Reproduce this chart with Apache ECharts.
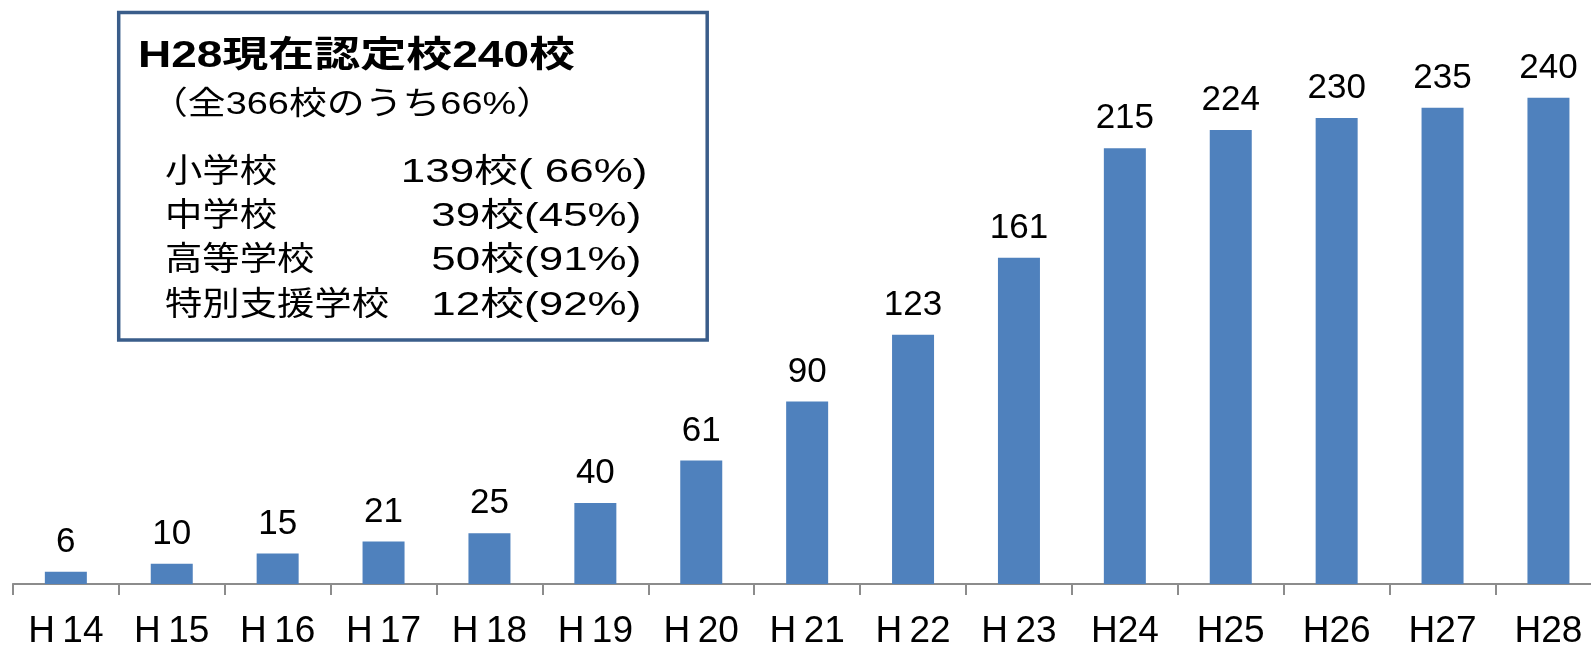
<!DOCTYPE html>
<html><head><meta charset="utf-8">
<script src="https://cdn.jsdelivr.net/npm/echarts@6/dist/echarts.min.js"></script>
<style>html,body{margin:0;padding:0;background:#fff}#c{width:1591px;height:647px}</style>
</head><body><div id="c"></div>
<script>
// ---- data ----
const categories = ['H\u200914','H\u200915','H\u200916','H\u200917','H\u200918','H\u200919','H\u200920','H\u200921','H\u200922','H\u200923','H24','H25','H26','H27','H28'];
const values = [6, 10, 15, 21, 25, 40, 61, 90, 123, 161, 215, 224, 230, 235, 240];
const boxTitle = 'H28現在認定校240校';
const boxSubtitle = '（全366校のうち66%）';
const schoolTypes = ['小学校', '中学校', '高等学校', '特別支援学校'];
const schoolCounts = ['139校( 66%)', '39校(45%)', '50校(91%)', '12校(92%)'];

// ---- layout helpers ----
const FONT = '"Liberation Sans", Arial, "Noto Sans CJK JP", sans-serif';
const mctx = document.createElement('canvas').getContext('2d');
function measure(text, size, weight) {
  mctx.font = (weight || 'normal') + ' ' + size + 'px ' + FONT;
  return mctx.measureText(text).width;
}
function txt(text, x, y, size, weight, align, scaleX) {
  const f = (weight || 'normal') + ' ' + size + 'px ' + FONT;
  return {
    type: 'text', x: x, y: y, scaleX: scaleX, scaleY: 1, z: 10,
    style: { text: text, font: f, fill: '#000',
      align: align, verticalAlign: 'middle',
      textAlign: align, textVerticalAlign: 'middle' }
  };
}

const titleSize = 36, subSize = 32, rowSize = 33;
const titleScale = 437 / measure(boxTitle, titleSize, 'bold');
const subScale = 404 / measure(boxSubtitle, subSize);
const labelScale = 224 / measure(schoolTypes[3], rowSize);
const valueScale = 210 / measure(schoolCounts[1], rowSize);
const rowY = [173, 217, 261, 306];
const valueRight = [647.4, 641.3, 641.3, 641.3];

const graphics = [
  { type: 'rect', z: 5, shape: { x: 118.7, y: 12.5, width: 588.5, height: 327.5 },
    style: { fill: '#fff', stroke: '#3A5D8A', lineWidth: 3.5 } },
  txt(boxTitle, 138, 56.7, titleSize, 'bold', 'left', titleScale),
  txt(boxSubtitle, 150, 105, subSize, 'normal', 'left', subScale)
];
schoolTypes.forEach((t, i) => {
  graphics.push(txt(t, 165, rowY[i], rowSize, 'normal', 'left', labelScale));
  graphics.push(txt(schoolCounts[i], valueRight[i], rowY[i], rowSize, 'normal', 'right', valueScale));
});

const chart = echarts.init(document.getElementById('c'), null, { renderer: 'canvas' });
chart.setOption({
  animation: false,
  backgroundColor: '#fff',
  grid: { left: 12.9, top: 16.6, width: 1588.5, bottom: 63, containLabel: false, outerBoundsMode: 'none' },
  xAxis: {
    type: 'category', data: categories,
    axisLine: { show: true, lineStyle: { color: '#8C8C8C', width: 2 } },
    axisTick: { show: true, length: 11, lineStyle: { color: '#8C8C8C', width: 2 } },
    axisLabel: { interval: 0, color: '#000', fontSize: 37, fontFamily: FONT, margin: 29 }
  },
  yAxis: { type: 'value', min: 0, max: 280, show: false, splitLine: { show: false } },
  series: [{
    type: 'bar', data: values, barWidth: 42,
    itemStyle: { color: '#4F81BD' },
    label: { show: true, position: 'top', distance: 12, color: '#000', fontSize: 35, fontFamily: FONT }
  }],
  graphic: graphics
});
</script></body></html>
